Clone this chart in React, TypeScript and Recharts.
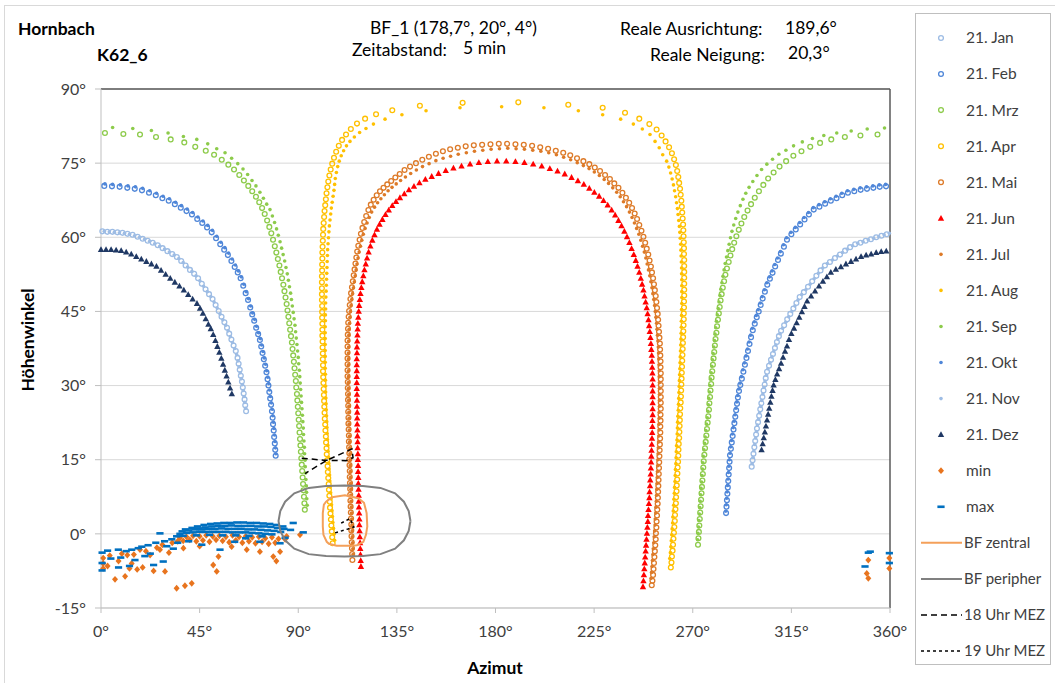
import React from "react"
import { CartesianGrid, ReferenceLine, Scatter, ScatterChart, XAxis, YAxis } from "recharts"

type Pt = [number, number]

// axes
const xTicks = [0, 45, 90, 135, 180, 225, 270, 315, 360]
const yTicks = [-15, 0, 15, 30, 45, 60, 75, 90]

// sun paths [azimut, hoehe]
const jan: Pt[] = [
  [0.6,61.2],[2.9,61.1],[5.2,61.1],[7.5,61],[9.8,60.9],[12.1,60.7],[14.4,60.5],[16.7,60.1],[19,59.7],[21.3,59.3],[23.6,58.9],[25.9,58.4],[28.1,57.8],[30.3,57.2],[32.5,56.6],[34.6,56],[36.6,55.2],[38.6,54.3],[40.6,53.4],[42.5,52.6],[44.3,51.7],[46,50.6],[47.7,49.5],[49.3,48.5],[50.9,47.5],[52.3,46.3],[53.7,45.1],[55,43.9],[56.3,42.8],[57.5,41.7],[58.5,40.5],[59.5,39.3],[60.5,38.1],[61.5,37],[62.3,35.6],[62.8,34.4],[63.3,33.2],[63.8,32],[64.3,30.8],[64.7,29.6],[65.1,28.4],[65.5,27.2],[65.8,26],[66.2,24.8],
  [296.9,13.6],[297.3,14.9],[297.7,16.2],[298.1,17.5],[298.5,18.8],[298.9,20.1],[299.3,21.3],[299.8,22.6],[300.3,23.9],[300.8,25.2],[301.3,26.4],[301.8,27.7],[302.3,29],[302.8,30.2],[303.3,31.5],[303.9,32.8],[304.8,34],[305.7,35.2],[306.6,36.4],[307.5,37.6],[308.4,38.8],[309.3,40],[310.3,41.1],[311.7,42.2],[313.1,43.4],[314.5,44.5],[315.9,45.6],[317.3,46.7],[318.8,47.9],[320.7,48.9],[322.6,50],[324.5,51.1],[326.4,52.2],[328.3,53.3],[330.3,54.3],[332.6,55],[334.9,55.8],[337.2,56.5],[339.5,57.3],[341.8,58],[344.1,58.6],[346.5,58.9],[348.9,59.3],[351.3,59.6],[353.7,60],[356.1,60.3],[358.5,60.6],
]
const nov: Pt[] = [
  [1.5,61.2],[3.8,61.1],[6.1,61],[8.4,60.9],[10.7,60.8],[13,60.6],[15.3,60.3],[17.6,60],[19.9,59.6],[22.2,59.2],[24.5,58.7],[26.8,58.2],[29,57.6],[31.2,57],[33.4,56.4],[35.5,55.7],[37.5,54.9],[39.5,54],[41.5,53.1],[43.4,52.2],[45.1,51.2],[46.8,50.1],[48.5,49],[50.1,48],[51.6,46.9],[53,45.7],[54.3,44.5],[55.6,43.3],[56.9,42.2],[58,41.1],[59,39.9],[60,38.7],[61,37.5],[61.9,36.3],[62.5,35],[63,33.8],[63.5,32.6],[64,31.4],[64.5,30.2],[64.9,29],[65.3,27.8],[65.6,26.6],[66,25.4],
  [297.1,14.2],[297.5,15.5],[297.9,16.8],[298.3,18.1],[298.7,19.4],[299.1,20.7],[299.5,22],[300,23.2],[300.5,24.5],[301,25.8],[301.5,27],[302,28.3],[302.5,29.6],[303,30.9],[303.6,32.1],[304.3,33.4],[305.2,34.6],[306.1,35.8],[307,37],[307.9,38.2],[308.8,39.4],[309.8,40.5],[311,41.6],[312.4,42.8],[313.8,43.9],[315.2,45],[316.6,46.1],[318,47.3],[319.7,48.4],[321.6,49.4],[323.5,50.5],[325.4,51.6],[327.3,52.7],[329.3,53.8],[331.4,54.7],[333.7,55.4],[336,56.2],[338.3,56.9],[340.6,57.6],[342.9,58.3],[345.3,58.8],[347.7,59.1],[350.1,59.5],[352.5,59.8],[354.9,60.1],[357.3,60.5],[359.7,60.8],
]
const feb: Pt[] = [
  [1.5,70.4],[5,70.3],[8.5,70.2],[12,70],[15.4,69.8],[18.7,69.5],[21.9,69],[25,68.5],[28,67.9],[30.9,67.4],[33.7,66.7],[36.4,66],[39,65.3],[41.5,64.6],[43.9,63.7],[46.2,62.9],[48.4,62],[50.5,61],[52.5,59.8],[54.4,58.6],[56.2,57.5],[57.9,56.4],[59.5,55.2],[61,54],[62.4,52.9],[63.7,51.7],[64.9,50.2],[66,48.7],[67.1,47.3],[68.1,45.8],[69,44.4],[69.9,43.1],[70.8,41.7],[71.7,40.4],[72.5,39.2],[73.1,37.9],[73.7,36.6],[74.3,35.3],[74.9,34],[75.5,32.7],[76,31.3],[76.4,30],[76.8,28.7],[77.2,27.4],[77.6,26.1],[78,24.8],[78.3,23.5],[78.5,22.2],[78.8,20.9],[79,19.6],[79.3,18.3],[79.5,17],[79.7,15.8],
  [285.2,4.2],[285.4,5.5],[285.6,6.8],[285.8,8.1],[286,9.4],[286.2,10.7],[286.4,12],[286.6,13.3],[286.8,14.6],[287,15.9],[287.4,17.2],[287.8,18.5],[288.2,19.8],[288.6,21.1],[289,22.4],[289.4,23.7],[289.8,25],[290.2,26.3],[290.6,27.6],[291.1,28.9],[291.7,30.1],[292.4,31.4],[293.1,32.8],[293.8,34.2],[294.5,35.6],[295.2,37],[295.9,38.4],[296.6,39.8],[297.4,41.2],[298.3,42.5],[299.2,43.8],[300.1,45],[301,46.3],[301.9,47.6],[302.9,49],[304,50.4],[305.2,51.6],[306.4,52.8],[307.6,54.1],[308.9,55.4],[310.2,56.7],[311.6,58.1],[313,59.5],[315,60.6],[317,61.6],[319,62.6],[321,63.6],[323,64.6],[325.2,65.6],[327.8,66.2],[330.4,66.8],[333,67.4],[335.6,67.9],[338.2,68.5],[340.8,69],[343.7,69.3],[346.6,69.6],[349.5,69.8],[352.4,70],[355.3,70.2],[358.2,70.3],
]
const okt: Pt[] = [
  [1.8,70.8],[5.3,70.7],[8.8,70.6],[12.3,70.4],[15.7,70.2],[19,69.9],[22.2,69.4],[25.3,68.9],[28.3,68.3],[31.2,67.8],[34,67.1],[36.7,66.4],[39.3,65.7],[41.8,65],[44.2,64.1],[46.5,63.3],[48.7,62.4],[50.8,61.4],[52.8,60.2],[54.7,59],[56.5,57.9],[58.2,56.8],[59.8,55.6],[61.3,54.4],[62.7,53.2],[64,52],[65.2,50.5],[66.3,49],[67.3,47.6],[68.3,46.1],[69.2,44.7],[70.1,43.4],[71,42],[71.9,40.7],[72.7,39.5],[73.3,38.2],[73.9,36.9],[74.5,35.6],[75.1,34.3],[75.6,33],[76.1,31.7],[76.5,30.4],[76.9,29.1],[77.3,27.8],[77.7,26.5],[78.1,25.2],[78.4,23.9],[78.7,22.6],[78.9,21.3],[79.2,20],[79.4,18.7],[79.6,17.4],[79.8,16.2],
  [285.1,4.6],[285.3,5.9],[285.5,7.2],[285.7,8.5],[285.9,9.8],[286.1,11.1],[286.3,12.4],[286.5,13.7],[286.7,15],[287,16.3],[287.3,17.6],[287.7,18.9],[288.1,20.2],[288.5,21.5],[288.9,22.8],[289.3,24.1],[289.7,25.4],[290.1,26.7],[290.5,28],[291,29.3],[291.6,30.5],[292.2,31.8],[292.9,33.2],[293.6,34.6],[294.3,36],[295,37.4],[295.7,38.8],[296.4,40.2],[297.2,41.6],[298.1,42.9],[299,44.2],[299.9,45.4],[300.8,46.7],[301.7,48],[302.7,49.4],[303.8,50.8],[305,52],[306.2,53.2],[307.4,54.5],[308.7,55.8],[310,57.1],[311.4,58.5],[312.8,59.9],[314.8,61],[316.8,62],[318.8,63],[320.8,64],[322.8,65],[325,66],[327.6,66.6],[330.2,67.2],[332.8,67.8],[335.4,68.3],[338,68.9],[340.6,69.4],[343.5,69.7],[346.4,70],[349.3,70.2],[352.2,70.4],[355.1,70.6],[358,70.7],
]
const mrz: Pt[] = [
  [1.8,81.1],[10.2,80.9],[17.8,80.8],[25.1,80.3],[31.8,79.8],[38,79.2],[43,78.3],[47.8,77.5],[51.6,76.7],[55.1,75.7],[58.1,74.7],[60.7,73.7],[63.1,72.6],[65.2,71.5],[67.2,70.4],[69,69.3],[70.7,68.2],[72.2,67.1],[73.5,65.9],[74.7,64.7],[75.8,63.4],[76.8,62.1],[77.7,60.8],[78.5,59.5],[79.3,58.2],[80,56.9],[80.7,55.6],[81.4,54.3],[82,53],[82.6,51.7],[83.2,50.4],[83.7,49.1],[84.2,47.8],[84.7,46.5],[85.1,45.2],[85.5,43.9],[85.9,42.6],[86.3,41.3],[86.7,40],[87.1,38.7],[87.4,37.4],[87.7,36.1],[88,34.8],[88.3,33.5],[88.6,32.2],[88.9,30.9],[89.1,29.6],[89.4,28.3],[89.6,27],[89.8,25.7],[90,24.4],[90.2,23.1],[90.4,21.8],[90.6,20.5],[90.8,19.2],[91,17.9],[91.2,16.6],[91.4,15.3],[91.6,14],[91.8,12.7],[92,11.4],[92.2,10.1],[92.4,8.8],[92.6,7.5],[92.8,6.2],[93,4.9],
  [272.4,-2.2],[272.6,-0.9],[272.8,0.4],[273,1.7],[273.2,3],[273.4,4.3],[273.6,5.6],[273.8,6.9],[274,8.2],[274.2,9.5],[274.4,10.8],[274.6,12.1],[274.8,13.4],[275,14.7],[275.3,16],[275.6,17.3],[275.9,18.6],[276.2,19.9],[276.5,21.2],[276.8,22.5],[277.1,23.8],[277.4,25.1],[277.6,26.4],[277.9,27.7],[278.1,29],[278.4,30.3],[278.6,31.6],[278.9,32.9],[279.2,34.2],[279.5,35.5],[279.8,36.8],[280.1,38.1],[280.4,39.4],[280.8,40.7],[281.1,42],[281.5,43.3],[281.9,44.6],[282.3,45.9],[282.7,47.2],[283.2,48.5],[283.7,49.8],[284.3,51.1],[284.9,52.4],[285.6,53.7],[286.4,55],[287.2,56.3],[288,57.6],[288.9,58.9],[289.9,60.2],[291,61.5],[292.2,62.8],[293.5,64.1],[295,65.4],[296.6,66.7],[298.3,68],[300.2,69.3],[302.2,70.6],[304.4,71.9],[306.9,73.1],[309.6,74.3],[312.6,75.4],[315.9,76.5],[319.6,77.4],[323.6,78.3],[328.1,79.1],[333.2,79.8],[339.4,80.3],[346.5,80.6],[354.3,80.8],
]
const sep: Pt[] = [
  [5.3,82.2],[14.5,82],[23,81.6],[30.6,81.1],[37.6,80.4],[43.7,79.8],[48.7,78.9],[52.8,77.9],[56.6,77.1],[59.6,76],[62.4,74.9],[64.8,73.8],[66.9,72.7],[68.9,71.5],[70.7,70.4],[72.5,69.1],[74.1,67.9],[75.6,66.7],[77.1,65.6],[78.2,64.3],[79.2,63],[80.1,61.7],[80.9,60.4],[81.7,59.1],[82.4,57.8],[83.1,56.5],[83.8,55.2],[84.4,53.9],[85,52.6],[85.5,51.3],[86,50],[86.5,48.7],[86.9,47.4],[87.3,46.1],[87.7,44.8],[88.1,43.5],[88.5,42.2],[88.8,40.9],[89.1,39.6],[89.4,38.3],[89.7,37],[90,35.7],[90.2,34.4],[90.5,33.1],[90.7,31.8],[90.9,30.5],[91.1,29.2],[91.3,27.9],[91.5,26.6],[91.7,25.3],[91.9,24],[92.1,22.7],[92.3,21.4],[92.4,20.1],[92.6,18.8],[92.8,17.5],[92.9,16.2],[93.1,14.9],[93.2,13.6],[93.4,12.3],[93.5,11],[93.7,9.7],[93.8,8.4],[93.9,7.1],[94.1,5.8],
  [272.2,-1.2],[272.4,0.1],[272.6,1.4],[272.8,2.7],[273,4],[273.2,5.3],[273.4,6.6],[273.6,7.9],[273.8,9.2],[274,10.5],[274.2,11.8],[274.4,13.1],[274.6,14.4],[274.8,15.7],[275.1,17],[275.4,18.3],[275.7,19.6],[276,20.9],[276.3,22.2],[276.6,23.5],[276.9,24.8],[277.1,26.1],[277.3,27.4],[277.6,28.7],[277.8,30],[278.1,31.3],[278.4,32.6],[278.7,33.9],[279,35.2],[279.3,36.5],[279.6,37.8],[279.9,39.1],[280.2,40.4],[280.5,41.7],[280.8,43],[281.2,44.3],[281.6,45.6],[282,46.9],[282.4,48.2],[282.8,49.5],[283.3,50.8],[283.8,52.1],[284.3,53.4],[284.8,54.7],[285.4,56],[286,57.3],[286.6,58.6],[287.2,59.9],[287.9,61.2],[288.7,62.5],[289.6,63.8],[290.6,65.1],[291.7,66.4],[292.9,67.7],[294.2,68.9],[295.7,70.1],[297.4,71.3],[299.3,72.5],[301.4,73.7],[303.8,74.8],[306.4,75.8],[309.3,76.8],[312.5,77.6],[316,78.5],[320,79.3],[324.6,80],[329.8,80.6],[335.7,81.1],[342.3,81.5],[349.6,81.9],[357.5,82.1],
]
const apr: Pt[] = [
  [105.7,-1.9],[105.5,-0.7],[105.3,0.5],[105.1,1.7],[104.9,2.9],[104.7,4.1],[104.5,5.3],[104.4,6.5],[104.2,7.7],[104,8.9],[103.9,10.1],[103.7,11.3],[103.5,12.5],[103.4,13.7],[103.2,14.9],[103,16.1],[102.9,17.3],[102.7,18.5],[102.6,19.7],[102.4,20.9],[102.3,22.1],[102.1,23.3],[102,24.5],[101.9,25.7],[101.8,26.9],[101.7,28.1],[101.6,29.3],[101.5,30.5],[101.4,31.7],[101.3,32.9],[101.3,34.1],[101.2,35.3],[101.2,36.5],[101.1,37.7],[101.1,38.9],[101,40.1],[101,41.3],[101,42.5],[100.9,43.7],[100.9,44.9],[100.9,46.1],[100.8,47.3],[100.8,48.5],[100.8,49.7],[100.8,50.9],[100.8,52.1],[100.9,53.3],[100.9,54.5],[101,55.7],[101,56.9],[101.1,58.1],[101.2,59.3],[101.3,60.5],[101.4,61.7],[101.6,62.9],[101.8,64.1],[102,65.3],[102.3,66.5],[102.6,67.7],[102.9,68.9],[103.3,70.1],[103.7,71.3],[104.2,72.5],[104.8,73.7],[105.5,74.9],[106.3,76.1],[107.3,77.3],[108.5,78.5],[110,79.7],[111.8,80.8],[114,81.9],[116.8,83],[120.5,84],[125.5,84.9],[132.9,85.7],[145.5,86.6],[165,87.2],[190.4,87.3],[213.2,86.8],[228.9,86.2],[239.1,85.2],[245.6,84],[250.2,82.9],[253.5,81.8],[255.8,80.6],[257.6,79.4],[259.2,78.2],[260.5,77],[261.5,75.8],[262.3,74.6],[262.9,73.4],[263.4,72.2],[263.8,71],[264.2,69.8],[264.5,68.6],[264.8,67.4],[265,66.2],[265.2,65],[265.4,63.8],[265.6,62.6],[265.7,61.4],[265.8,60.2],[265.9,59],[266,57.8],[266,56.6],[266.1,55.4],[266.1,54.2],[266.1,53],[266.1,51.8],[266.1,50.6],[266.1,49.4],[266.1,48.2],[266,47],[266,45.8],[265.9,44.6],[265.9,43.4],[265.8,42.2],[265.7,41],[265.6,39.8],[265.5,38.6],[265.4,37.4],[265.3,36.2],[265.2,35],[265.1,33.8],[265,32.6],[264.9,31.4],[264.8,30.2],[264.7,29],[264.6,27.8],[264.5,26.6],[264.3,25.4],[264.2,24.2],[264.1,23],[264,21.8],[263.9,20.6],[263.8,19.4],[263.6,18.2],[263.5,17],[263.4,15.8],[263.3,14.6],[263.1,13.4],[263,12.2],[262.9,11],[262.7,9.8],[262.6,8.6],[262.4,7.4],[262.3,6.2],[262.1,5],[261.9,3.8],[261.8,2.6],[261.6,1.4],[261.4,0.2],[261.2,-1],[261,-2.2],[260.8,-3.4],[260.5,-4.6],[260.3,-5.8],[260,-6.8],
]
const aug: Pt[] = [
  [106.6,-1.3],[106.3,-0.1],[106.1,1.1],[105.8,2.3],[105.6,3.5],[105.4,4.7],[105.2,5.9],[105,7.1],[104.8,8.3],[104.6,9.5],[104.4,10.7],[104.3,11.9],[104.1,13.1],[103.9,14.3],[103.8,15.5],[103.6,16.7],[103.5,17.9],[103.3,19.1],[103.2,20.3],[103.1,21.5],[103,22.7],[102.9,23.9],[102.8,25.1],[102.7,26.3],[102.6,27.5],[102.5,28.7],[102.5,29.9],[102.4,31.1],[102.4,32.3],[102.3,33.5],[102.3,34.7],[102.3,35.9],[102.3,37.1],[102.3,38.3],[102.3,39.5],[102.3,40.7],[102.3,41.9],[102.4,43.1],[102.4,44.3],[102.5,45.5],[102.5,46.7],[102.6,47.9],[102.7,49.1],[102.8,50.3],[102.9,51.5],[103,52.7],[103.1,53.9],[103.2,55.1],[103.3,56.3],[103.4,57.5],[103.6,58.7],[103.8,59.9],[104,61.1],[104.2,62.3],[104.5,63.5],[104.8,64.7],[105.1,65.9],[105.5,67.1],[105.9,68.3],[106.3,69.5],[106.6,70.7],[106.9,71.9],[107.4,73.1],[108,74.3],[108.7,75.4],[109.6,76.5],[110.7,77.5],[112,78.5],[113.6,79.4],[115.6,80.3],[118,81.2],[120.9,82],[124.3,82.9],[129.6,83.9],[137.3,84.8],[148.3,85.6],[163.8,86.2],[182.8,86.4],[202.1,86.2],[217.8,85.6],[228.9,84.8],[237.1,83.9],[242.9,82.9],[247,81.9],[250.5,80.8],[252.8,79.4],[254.7,78.1],[256.3,76.7],[258.1,75.4],[259.1,74.2],[259.9,73],[260.6,71.8],[261.2,70.6],[261.7,69.4],[262.2,68.2],[262.6,67],[263,65.8],[263.3,64.6],[263.6,63.4],[263.9,62.2],[264.1,61],[264.3,59.8],[264.5,58.6],[264.6,57.4],[264.7,56.2],[264.8,55],[264.9,53.8],[264.9,52.6],[265,51.4],[265,50.2],[265,49],[265,47.8],[265,46.6],[264.9,45.4],[264.9,44.2],[264.8,43],[264.8,41.8],[264.7,40.6],[264.6,39.4],[264.5,38.2],[264.4,37],[264.3,35.8],[264.2,34.6],[264.1,33.4],[264,32.2],[263.9,31],[263.8,29.8],[263.7,28.6],[263.6,27.4],[263.5,26.2],[263.4,25],[263.2,23.8],[263.1,22.6],[263,21.4],[262.9,20.2],[262.8,19],[262.6,17.8],[262.5,16.6],[262.4,15.4],[262.3,14.2],[262.1,13],[262,11.8],[261.9,10.6],[261.7,9.4],[261.6,8.2],[261.4,7],[261.3,5.8],[261.1,4.6],[260.9,3.4],[260.8,2.2],[260.6,1],[260.4,-0.2],[260.2,-1.4],[260,-2.6],[259.8,-3.8],[259.5,-5],
]
const mai: Pt[] = [
  [114.7,-5.3],[114.6,-4.1],[114.5,-2.9],[114.4,-1.7],[114.3,-0.5],[114.2,0.7],[114.2,1.9],[114.1,3.1],[114,4.3],[113.9,5.5],[113.8,6.7],[113.7,7.9],[113.7,9.1],[113.6,10.3],[113.5,11.5],[113.5,12.7],[113.4,13.9],[113.3,15.1],[113.3,16.3],[113.2,17.5],[113.1,18.7],[113.1,19.9],[113,21.1],[112.9,22.3],[112.9,23.5],[112.8,24.7],[112.8,25.9],[112.7,27.1],[112.7,28.3],[112.6,29.5],[112.6,30.7],[112.5,31.9],[112.5,33.1],[112.5,34.3],[112.5,35.5],[112.5,36.7],[112.5,37.9],[112.5,39.1],[112.6,40.3],[112.7,41.5],[112.8,42.7],[113,43.9],[113.2,45.1],[113.5,46.3],[113.8,47.5],[114.1,48.7],[114.5,49.9],[114.9,51.1],[115.3,52.3],[115.7,53.5],[116.1,54.7],[116.5,55.9],[116.9,57.1],[117.4,58.3],[118,59.5],[118.6,60.7],[119.3,61.9],[120.1,63.1],[121,64.3],[122,65.5],[123.1,66.6],[124.4,67.6],[125.8,68.5],[127.3,69.3],[128.9,70],[130.6,70.7],[132.4,71.4],[134.3,72.1],[136.3,72.8],[138.5,73.6],[141,74.3],[143.7,75],[146.6,75.7],[149.6,76.3],[152.8,76.9],[156,77.4],[159.3,77.8],[162.8,78.1],[166.4,78.4],[170.1,78.6],[173.9,78.7],[177.7,78.8],[181.5,78.9],[185.3,78.9],[189.1,78.8],[192.9,78.7],[196.7,78.5],[200.4,78.2],[204,77.9],[207.5,77.5],[210.9,77.1],[214.1,76.6],[217.2,76],[220.1,75.4],[222.8,74.8],[225.3,74.1],[227.7,73.4],[230,72.6],[232.2,71.8],[234.2,70.9],[236.1,70],[237.9,69],[239.5,68],[241,67],[242.3,65.9],[243.5,64.8],[244.6,63.7],[245.6,62.5],[246.6,61.3],[247.5,60.1],[248.3,58.9],[249,57.7],[249.7,56.5],[250.3,55.3],[250.9,54.1],[251.4,52.9],[251.9,51.7],[252.3,50.5],[252.7,49.3],[253.1,48.1],[253.4,46.9],[253.7,45.7],[254,44.5],[254.2,43.3],[254.4,42.1],[254.6,40.9],[254.8,39.7],[255,38.5],[255.1,37.3],[255.2,36.1],[255.3,34.9],[255.3,33.7],[255.4,32.5],[255.4,31.3],[255.4,30.1],[255.4,28.9],[255.4,27.7],[255.4,26.5],[255.4,25.3],[255.3,24.1],[255.3,22.9],[255.2,21.7],[255.2,20.5],[255.1,19.3],[255,18.1],[254.9,16.9],[254.8,15.7],[254.7,14.5],[254.6,13.3],[254.5,12.1],[254.4,10.9],[254.3,9.7],[254.2,8.5],[254.1,7.3],[254,6.1],[253.8,4.9],[253.7,3.7],[253.5,2.5],[253.4,1.3],[253.2,0.1],[253.1,-1.1],[252.9,-2.3],[252.7,-3.5],[252.5,-4.7],[252.3,-5.9],[252.1,-7.1],[251.9,-8.3],[251.6,-9.5],[251.3,-10.4],
]
const jul: Pt[] = [
  [115,-4.2],[114.9,-3],[114.8,-1.8],[114.7,-0.6],[114.6,0.6],[114.5,1.8],[114.4,3],[114.3,4.2],[114.2,5.4],[114.1,6.6],[114,7.8],[114,9],[113.9,10.2],[113.8,11.4],[113.8,12.6],[113.7,13.8],[113.6,15],[113.6,16.2],[113.5,17.4],[113.4,18.6],[113.4,19.8],[113.3,21],[113.2,22.2],[113.2,23.4],[113.1,24.6],[113.1,25.8],[113,27],[113,28.2],[112.9,29.4],[112.9,30.6],[112.9,31.8],[112.9,33],[112.9,34.2],[112.9,35.4],[112.9,36.6],[113,37.8],[113,39],[113.1,40.2],[113.2,41.4],[113.4,42.6],[113.6,43.8],[113.8,45],[114.1,46.2],[114.4,47.4],[114.8,48.6],[115.2,49.8],[115.6,51],[116,52.2],[116.4,53.4],[116.8,54.6],[117.3,55.8],[117.8,57],[118.4,58.2],[119,59.4],[119.7,60.6],[120.5,61.8],[121.4,62.9],[122.4,64],[123.5,65.1],[124.8,66.1],[126.2,67],[127.7,67.8],[129.3,68.6],[131,69.4],[132.8,70.1],[134.7,70.8],[136.7,71.5],[138.9,72.2],[141.3,72.9],[143.9,73.6],[146.7,74.3],[149.7,74.9],[152.8,75.5],[156.1,76],[159.5,76.4],[163,76.8],[166.7,77.1],[170.4,77.4],[174.2,77.6],[178,77.8],[181.8,77.9],[185.6,78],[189.4,77.9],[193.2,77.8],[197,77.6],[200.7,77.4],[204.3,77.1],[207.8,76.7],[211.1,76.2],[214.3,75.7],[217.3,75.1],[220.1,74.5],[222.7,73.9],[225.1,73.2],[227.4,72.5],[229.6,71.7],[231.6,70.9],[233.5,70],[235.3,69.1],[236.9,68.2],[238.4,67.2],[239.8,66.2],[241.1,65.1],[242.3,64],[243.4,62.9],[244.4,61.8],[245.4,60.6],[246.3,59.4],[247.1,58.2],[247.9,57],[248.6,55.8],[249.2,54.6],[249.8,53.4],[250.4,52.2],[250.9,51],[251.4,49.8],[251.8,48.6],[252.2,47.4],[252.6,46.2],[252.9,45],[253.2,43.8],[253.5,42.6],[253.7,41.4],[253.9,40.2],[254.1,39],[254.3,37.8],[254.4,36.6],[254.5,35.4],[254.6,34.2],[254.7,33],[254.7,31.8],[254.8,30.6],[254.8,29.4],[254.8,28.2],[254.8,27],[254.8,25.8],[254.7,24.6],[254.7,23.4],[254.6,22.2],[254.6,21],[254.5,19.8],[254.4,18.6],[254.3,17.4],[254.2,16.2],[254.1,15],[254,13.8],[253.9,12.6],[253.8,11.4],[253.7,10.2],[253.6,9],[253.5,7.8],[253.4,6.6],[253.2,5.4],[253.1,4.2],[252.9,3],[252.8,1.8],[252.6,0.6],[252.4,-0.6],[252.2,-1.8],[252,-3],[251.8,-4.2],[251.6,-5.4],[251.4,-6.6],[251.2,-7.8],[251,-9],
]
const jun: Pt[] = [
  [118.6,-6.6],[118.5,-5.4],[118.4,-4.2],[118.3,-3],[118.2,-1.8],[118.1,-0.6],[118,0.6],[117.9,1.8],[117.9,3],[117.8,4.2],[117.7,5.4],[117.6,6.6],[117.6,7.8],[117.5,9],[117.4,10.2],[117.4,11.4],[117.3,12.6],[117.3,13.8],[117.2,15],[117.2,16.2],[117.1,17.4],[117.1,18.6],[117,19.8],[117,21],[116.9,22.2],[116.9,23.4],[116.9,24.6],[116.8,25.8],[116.8,27],[116.8,28.2],[116.7,29.4],[116.7,30.6],[116.7,31.8],[116.7,33],[116.7,34.2],[116.7,35.4],[116.8,36.6],[116.8,37.8],[116.9,39],[117,40.2],[117.1,41.4],[117.2,42.6],[117.4,43.8],[117.6,45],[117.8,46.2],[118.1,47.4],[118.4,48.6],[118.8,49.8],[119.2,51],[119.7,52.2],[120.2,53.4],[120.8,54.6],[121.4,55.8],[122.1,57],[122.9,58.2],[123.8,59.4],[124.8,60.5],[125.9,61.6],[127.1,62.6],[128.4,63.6],[129.8,64.6],[131.3,65.5],[132.9,66.4],[134.6,67.2],[136.4,68],[138.4,68.8],[140.5,69.6],[142.8,70.3],[145.3,71],[148,71.7],[150.9,72.3],[154,72.9],[157.3,73.5],[160.8,74],[164.5,74.4],[168.4,74.8],[172.4,75.1],[176.5,75.3],[180.7,75.4],[184.9,75.4],[189.1,75.3],[193.2,75.1],[197.2,74.8],[201.1,74.4],[204.8,73.9],[208.3,73.4],[211.6,72.8],[214.7,72.1],[217.6,71.4],[220.3,70.7],[222.8,69.9],[225.1,69.1],[227.3,68.3],[229.3,67.4],[231.2,66.5],[233,65.5],[234.6,64.5],[236.1,63.4],[237.5,62.3],[238.8,61.2],[240,60.1],[241.1,58.9],[242.1,57.7],[243.1,56.5],[244,55.3],[244.8,54.1],[245.6,52.9],[246.3,51.7],[246.9,50.5],[247.5,49.3],[248,48.1],[248.5,46.9],[249,45.7],[249.4,44.5],[249.8,43.3],[250.1,42.1],[250.4,40.9],[250.7,39.7],[250.9,38.5],[251.1,37.3],[251.3,36.1],[251.4,34.9],[251.5,33.7],[251.6,32.5],[251.7,31.3],[251.7,30.1],[251.7,28.9],[251.7,27.7],[251.7,26.5],[251.7,25.3],[251.7,24.1],[251.6,22.9],[251.6,21.7],[251.5,20.5],[251.4,19.3],[251.3,18.1],[251.2,16.9],[251.1,15.7],[251,14.5],[250.9,13.3],[250.8,12.1],[250.6,10.9],[250.5,9.7],[250.3,8.5],[250.2,7.3],[250,6.1],[249.8,4.9],[249.6,3.7],[249.5,2.5],[249.3,1.3],[249.1,0.1],[248.9,-1.1],[248.7,-2.3],[248.5,-3.5],[248.3,-4.7],[248.1,-5.9],[247.9,-7.1],[247.7,-8.3],[247.5,-9.5],[247.3,-10.7],
]
const dez: Pt[] = [
  [0,57.5],[2.3,57.5],[4.6,57.5],[6.9,57.4],[9.2,57.3],[11.5,57],[13.8,56.6],[16.1,56.1],[18.4,55.6],[20.7,55.1],[23,54.6],[25.3,54.1],[27.4,53.3],[29.5,52.5],[31.6,51.7],[33.7,50.9],[35.8,50.1],[37.8,49.3],[39.8,48.4],[41.8,47.5],[43.8,46.6],[45.2,45.6],[46.5,44.6],[47.8,43.5],[49,42.4],[50.1,41.5],[51.2,40.3],[52.2,39.1],[53.1,37.9],[54,36.7],[54.9,35.5],[55.7,34.3],[56.5,33.1],[57.3,31.9],[58.1,30.7],[58.9,29.5],[59.7,28.3],
  [301.4,17],[301.9,18.2],[302.4,19.4],[302.9,20.6],[303.4,21.8],[303.9,23],[304.4,24.2],[304.9,25.4],[305.4,26.6],[305.9,27.8],[306.4,29],[306.9,30.1],[307.7,31.2],[308.5,32.3],[309.4,33.4],[310.3,34.5],[311.2,35.7],[312.1,36.9],[313,38],[313.9,39.3],[315,40.5],[316.2,41.6],[317.4,42.7],[318.6,43.8],[319.8,44.9],[321,46],[322.2,47.1],[324,48.1],[325.8,49.1],[327.6,50.1],[329.4,51.1],[331.2,52],[333,52.9],[335.3,53.5],[337.6,54],[339.9,54.6],[342.2,55.1],[344.5,55.6],[346.8,56.1],[349.1,56.4],[351.4,56.6],[353.7,56.9],[356,57.1],[358.3,57.2],
]

// horizon min / max
const minPts: Pt[] = [
  [1,-4.9],[1,-6],[1,-7],[3,-6.5],[4,-4.4],[6.4,-9.2],[8,-5.5],[9.5,-4],[11,-8.6],[12,-4.3],[14,-6],[15,-4.2],[17.8,-3.2],[19,-6.8],[20.5,-3.5],[22.4,-4.3],[24,-7.5],[25.5,-2.8],[26.9,-3.2],[28,-2.2],[29.2,-7.6],[31,-3.8],[32.5,-1.8],[34.5,-11],[38.3,-10.5],[41.4,-10],[37.6,-2.9],[35,-1.5],[16.5,-7.2],[13,-7],
  [36,-0.8],[39,-0.6],[42,-0.4],[45,-0.5],[48,-0.3],[51,-0.5],[54,-0.4],[57,-0.6],[60,-0.3],[63,-0.6],[66,-0.5],[69,-0.7],[72,-0.6],[75,-0.9],[78,-0.7],[81,-1],[84,-1.1],
  [37.5,-1.4],[40.5,-1.2],[43.5,-1.5],[46.5,-1.3],[49.5,-1.6],[52.5,-1.2],[55.5,-1.4],[58.5,-1.7],[61.5,-1.3],[64.5,-1.8],[67.5,-1.5],[70.5,-1.9],[73.5,-1.6],[76.5,-2],[79.5,-1.8],
  [51.2,-6.3],[52.8,-7.6],[53.6,-4.6],[59.6,-2.6],[66.5,-3.2],[72.5,-3.6],[78.6,-4.6],[80,-5.5],[81.7,-3.6],[84.7,-0.5],[90.8,-0.2],[45,-2.5],
  [350.1,-5.3],[349.4,-8],[350.1,-9],[359.7,-4.9],[359.7,-7],
]
const maxPts: Pt[] = [
  [0.5,-3.8],[0.5,-5.9],[0.5,-7.4],[3,-3.4],[4.5,-5],[7.9,-3.2],[9,-4.8],[11.5,-3.5],[14,-3.2],[15.5,-5.3],[17,-2.9],[18.6,-2.6],[20,-4.5],[21.5,-2.3],[22.5,-4],[24,-6.3],[25,-1.8],[26.9,0.1],[28.4,-5.6],[29,-1.5],[30,-2.5],[32.3,-1.1],[33,-3],[34.5,-0.5],[35,-1.8],[13,-6.5],[8,-6.8],
  [44,1.5],[47,1.8],[50,2],[53,2.1],[56,2.2],[59,2.2],[62,2.3],[65,2.3],[68,2.2],[71,2.2],[74,2.1],[77,2],[80,1.8],[83,1.5],
  [38.5,0.9],[41.5,1.2],[44.5,1.1],[47.5,1.3],[50.5,1.5],[53.5,1.6],[56.5,1.6],[59.5,1.7],[62.5,1.6],[65.5,1.6],[68.5,1.6],[71.5,1.5],[74.5,1.5],[77.5,1.4],[80.5,1.2],[83.5,1],[86.5,0.8],
  [37,0.5],[40,0.7],[43,0.9],[46,0.9],[49,1],[52,1],[55,1.1],[58,1],[61,1],[64,1],[67,0.9],[70,0.9],[73,0.8],[76,0.7],[79,0.6],[82,0.4],
  [36,0],[39,0.2],[42,0.3],[45,0.4],[48,0.4],[51,0.4],[54,0.4],[57,0.4],[60,0.3],[63,0.3],[66,0.3],[69,0.2],[72,0.1],[75,0],[78,-0.1],
  [37.5,-0.4],[43.5,-0.3],[49.5,-0.2],[55.5,-0.3],[61.5,-0.3],[67.5,-0.4],[73.5,-0.5],
  [40,-1.5],[46,-2.2],[54.3,-3.2],[61,-1.6],[66,-0.9],[72.5,-1.6],[81.7,-1.9],[87.7,2.2],[92.3,0.3],[84,-0.8],
  [350.1,-3.8],[348.6,-6.6],[359.7,-3.9],[359.7,-5.9],[351,-3.6],
]

// field of view outlines
const bfZentral: Pt[] = [
  [105.3,7.4],[111.3,7.8],[117.4,7.2],[120,6.3],[121.2,4.2],[121.5,1.5],[120.9,-0.2],[119.7,-1.6],[116.8,-2.3],[113.6,-2.4],[107.5,-2.4],[104,-2],[103,-1.6],[101.5,-0.2],[101.2,1.5],[101.2,4.2],[101.7,5.9],[102.7,6.5],[105.3,7.4],
]
const bfPeripher: Pt[] = [
  [141.2,2.6],[140.4,4.6],[138.2,6.5],[134.2,8.2],[127.5,9.3],[119.5,9.7],[111.1,9.8],[102.7,9.7],[94.8,9.3],[88.2,8.2],[84,6.5],[81.8,4.6],[81,2.6],[81.8,0.6],[84,-1.3],[88.2,-3],[94.8,-4.1],[102.7,-4.5],[111.1,-4.6],[119.5,-4.5],[127.5,-4.1],[134.2,-3],[138.2,-1.3],[140.4,0.6],[141.2,2.6],
]
const uhr18: Pt[] = [[91.6,15.3],[101.7,14.9],[111.8,14.8],[115,15.4],[114.5,17.2],[102.7,14.8],[93.1,12.2]]
const uhr19: Pt[] = [[106.8,0.2],[112.7,1],[115.4,1.4],[113.6,3.1],[108.4,1.9]]

const FONT = "Lato, 'Open Sans', sans-serif"
const C = {
  jan: "#9DBCE4", feb: "#4F86D8", mrz: "#8DCB4B", apr: "#FFC000", mai: "#DD7A28",
  jun: "#FF0000", dez: "#1F3864", min: "#E8741E", max: "#0070C0",
  zen: "#F4A05A", per: "#808080",
}

const pts = (a: Pt[]) => a.map(([x, y]) => ({ x, y }))

type SP = { cx?: number; cy?: number }
const ring = (c: string) => (p: SP) => <circle cx={p.cx} cy={p.cy} r={2.4} fill="none" stroke={c} strokeWidth={1.3} />
const dot = (c: string) => (p: SP) => <circle cx={p.cx} cy={p.cy} r={1.8} fill={c} />
const tri = (c: string) => (p: SP) => {
  const x = p.cx ?? 0, y = p.cy ?? 0
  return <polygon points={`${x},${y - 3.4} ${x + 3.2},${y + 2.4} ${x - 3.2},${y + 2.4}`} fill={c} />
}
const diamond = (c: string) => (p: SP) => {
  const x = p.cx ?? 0, y = p.cy ?? 0
  return <polygon points={`${x},${y - 3.4} ${x + 3},${y} ${x},${y + 3.4} ${x - 3},${y}`} fill={c} />
}
const dash = (c: string) => (p: SP) => <rect x={(p.cx ?? 0) - 3.6} y={(p.cy ?? 0) - 1.3} width={7.2} height={2.6} fill={c} />
const none = () => <g />

const series = [
  { name: "21. Jan", data: jan, shape: ring(C.jan) },
  { name: "21. Feb", data: feb, shape: ring(C.feb) },
  { name: "21. Mrz", data: mrz, shape: ring(C.mrz) },
  { name: "21. Apr", data: apr, shape: ring(C.apr) },
  { name: "21. Mai", data: mai, shape: ring(C.mai) },
  { name: "21. Jun", data: jun, shape: tri(C.jun) },
  { name: "21. Jul", data: jul, shape: dot(C.mai) },
  { name: "21. Aug", data: aug, shape: dot(C.apr) },
  { name: "21. Sep", data: sep, shape: dot(C.mrz) },
  { name: "21. Okt", data: okt, shape: dot(C.feb) },
  { name: "21. Nov", data: nov, shape: dot(C.jan) },
  { name: "21. Dez", data: dez, shape: tri(C.dez) },
  { name: "min", data: minPts, shape: diamond(C.min) },
  { name: "max", data: maxPts, shape: dash(C.max) },
]

const lines = [
  { name: "BF zentral", data: bfZentral, stroke: C.zen, width: 2, dasharray: undefined },
  { name: "BF peripher", data: bfPeripher, stroke: C.per, width: 2, dasharray: undefined },
  { name: "18 Uhr MEZ", data: uhr18, stroke: "#000", width: 1.5, dasharray: "6 4" },
  { name: "19 Uhr MEZ", data: uhr19, stroke: "#000", width: 1.5, dasharray: "3 3" },
]

function LegendBox() {
  return (
    <div style={{ position: "absolute", left: 915, top: 13, width: 136, height: 652, border: "1px solid #BFBFBF", boxSizing: "border-box", background: "#fff" }}>
      <svg width={134} height={650} style={{ position: "absolute", left: 0, top: 0 }}>
        {series.map((s, i) => {
          const cy = 24 + i * 36.06
          return (
            <g key={s.name}>
              {s.shape({ cx: 25, cy })}
              <text x={50} y={cy} dy="0.35em" fontSize={15.5} fill="#404040" fontFamily={FONT}>{s.name}</text>
            </g>
          )
        })}
        {lines.map((l, j) => {
          const cy = 24 + (series.length + j) * 36.06
          return (
            <g key={l.name}>
              <line x1={5} x2={46} y1={cy} y2={cy} stroke={l.stroke} strokeWidth={l.width} strokeDasharray={l.dasharray} />
              <text x={48} y={cy} dy="0.35em" fontSize={15} fill="#404040" fontFamily={FONT}>{l.name}</text>
            </g>
          )
        })}
      </svg>
    </div>
  )
}

const label = (left: number, top: number, text: string, bold = false) => (
  <div style={{ position: "absolute", left, top, fontFamily: FONT, fontSize: 17.5, fontWeight: bold ? 700 : 400, color: "#000", whiteSpace: "pre", lineHeight: "20px" }}>{text}</div>
)

export default function App() {
  return (
    <div style={{ position: "absolute", left: 0, top: 0, width: 1055, height: 683, background: "#fff", overflow: "hidden" }}>
      <div style={{ position: "absolute", left: 4, top: 5, width: 1060, height: 690, border: "1px solid #D9D9D9" }} />
      {label(18, 19, "Hornbach", true)}
      {label(97, 45, "K62_6", true)}
      {label(370, 18, "BF_1 (178,7°, 20°, 4°)")}
      {label(352, 40, "Zeitabstand:")}
      {label(463, 38, "5 min")}
      {label(620, 19, "Reale Ausrichtung:")}
      {label(785, 18, "189,6°")}
      {label(650, 45, "Reale Neigung:")}
      {label(788, 43, "20,3°")}
      <div style={{ position: "absolute", left: 27, top: 340, transform: "translate(-50%, -50%) rotate(-90deg)", fontFamily: FONT, fontSize: 17.5, fontWeight: 700, whiteSpace: "pre" }}>Höhenwinkel</div>
      <div style={{ position: "absolute", left: 495, top: 667, transform: "translate(-50%, -50%)", fontFamily: FONT, fontSize: 17.5, fontWeight: 700 }}>Azimut</div>
      <div style={{ position: "absolute", left: 0, top: 0 }}>
        <ScatterChart width={910} height={683} margin={{ top: 89, right: 20, bottom: 45, left: 41 }} style={{ fontFamily: FONT }}>
          <CartesianGrid vertical={false} stroke="#D9D9D9" />
          <XAxis type="number" dataKey="x" domain={[0, 360]} ticks={xTicks} interval={0} height={30} tickFormatter={(v) => `${v}°`}
            tick={{ fontSize: 16, fill: "#404040" }} stroke="#BFBFBF" tickSize={5} tickMargin={13} />
          <YAxis type="number" dataKey="y" domain={[-15, 90]} ticks={yTicks} interval={0} width={60} tickFormatter={(v) => `${v}°`}
            tick={{ fontSize: 16, fill: "#404040" }} stroke="#BFBFBF" tickSize={6} tickMargin={9} />
          <ReferenceLine y={90} stroke="#595959" strokeWidth={1.5} />
          <ReferenceLine x={360} stroke="#595959" strokeWidth={1.5} />
          {series.map((s) => (
            <Scatter key={s.name} name={s.name} data={pts(s.data)} shape={s.shape} isAnimationActive={false} />
          ))}
          {lines.map((l) => (
            <Scatter key={l.name} name={l.name} data={pts(l.data)} shape={none} fill={l.stroke} isAnimationActive={false}
              line={{ stroke: l.stroke, strokeWidth: l.width, strokeDasharray: l.dasharray }} />
          ))}
        </ScatterChart>
      </div>
      <LegendBox />
    </div>
  )
}
